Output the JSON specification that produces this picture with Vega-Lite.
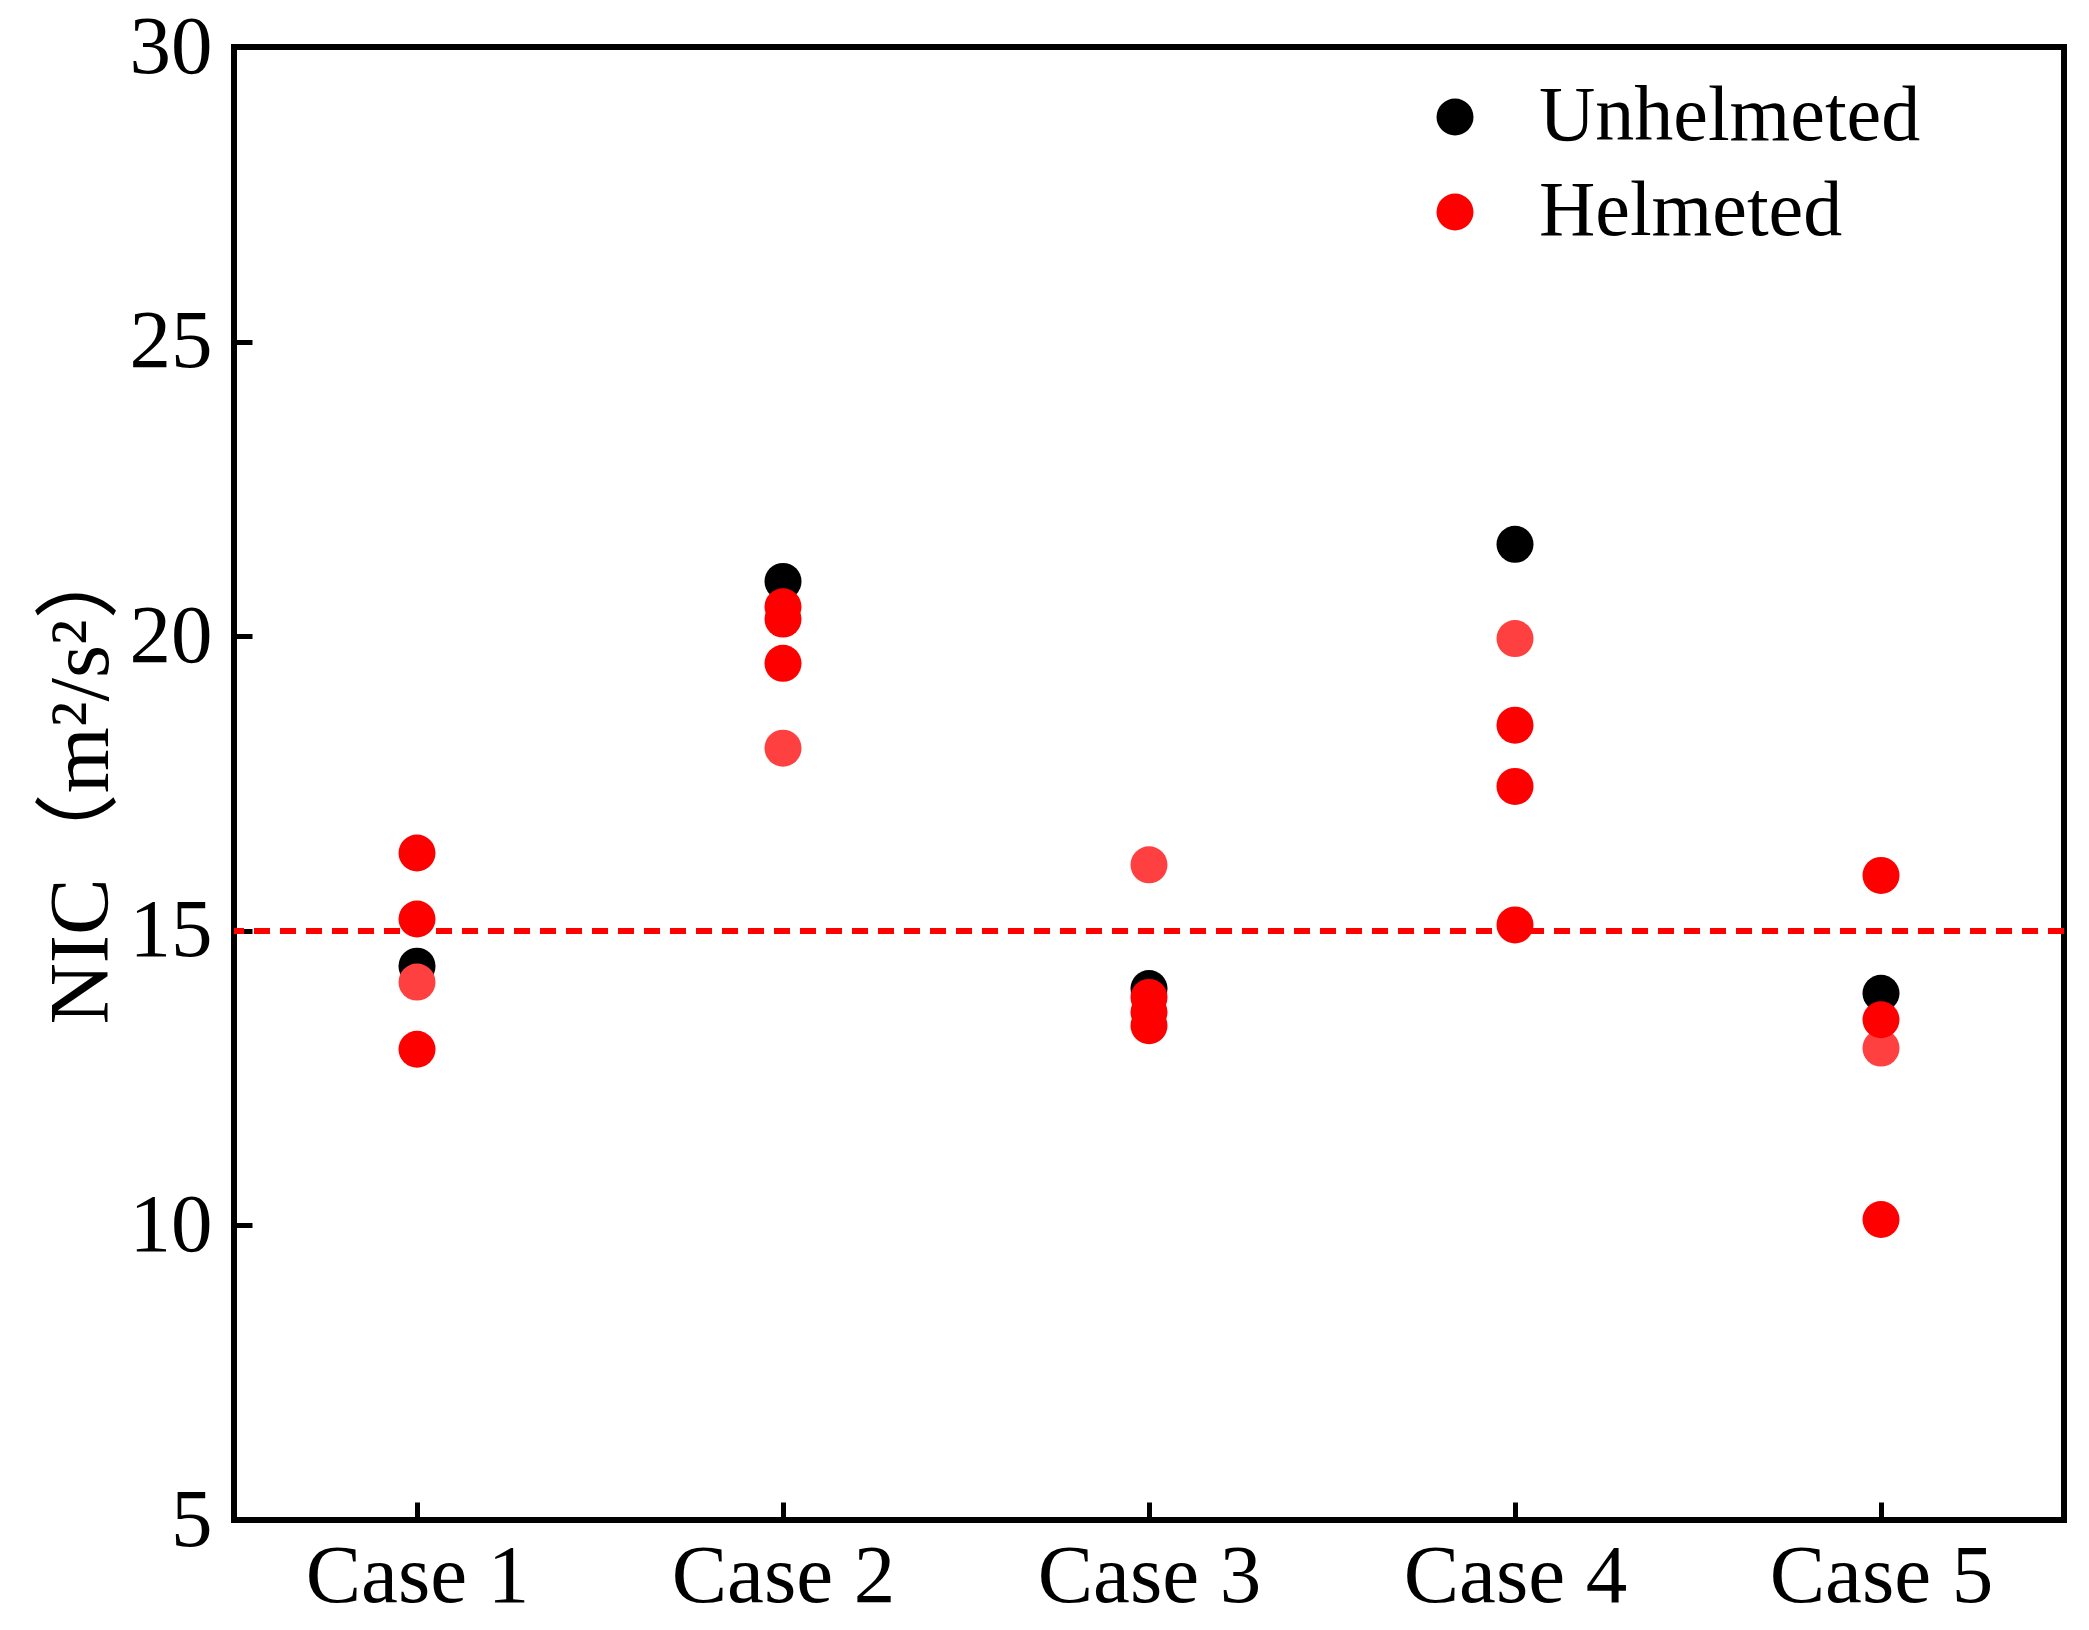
{
  "$schema": "https://vega.github.io/schema/vega-lite/v6.json",
  "width": 1830,
  "height": 1473,
  "autosize": {"type": "none"},
  "padding": {"left": 234, "top": 47, "right": 25, "bottom": 110},
  "background": "white",
  "config": {
    "font": "Liberation Serif",
    "view": {"stroke": "black", "strokeWidth": 6},
    "axis": {
      "domain": false,
      "grid": false,
      "tickSize": -18,
      "tickWidth": 5,
      "tickColor": "black",
      "labelFont": "Liberation Serif",
      "labelFontSize": 83,
      "labelColor": "black",
      "labelLimit": 0,
      "titleColor": "black"
    },
    "legend": {
      "orient": "none",
      "legendX": 1182,
      "legendY": 31,
      "padding": 0,
      "symbolSize": 1369,
      "symbolType": "circle",
      "symbolStrokeWidth": 0,
      "labelFont": "Liberation Serif",
      "labelFontSize": 78,
      "labelColor": "black",
      "labelLimit": 0,
      "labelOffset": 45,
      "rowPadding": 17
    }
  },
  "data": {
    "values": [
      {"case": "Case 1", "group": "Unhelmeted", "nic": 14.40},
      {"case": "Case 2", "group": "Unhelmeted", "nic": 20.93},
      {"case": "Case 3", "group": "Unhelmeted", "nic": 14.02},
      {"case": "Case 4", "group": "Unhelmeted", "nic": 21.56},
      {"case": "Case 5", "group": "Unhelmeted", "nic": 13.94},
      {"case": "Case 1", "group": "Helmeted (light)", "nic": 14.13},
      {"case": "Case 2", "group": "Helmeted (light)", "nic": 18.10},
      {"case": "Case 3", "group": "Helmeted (light)", "nic": 16.12},
      {"case": "Case 4", "group": "Helmeted (light)", "nic": 19.96},
      {"case": "Case 5", "group": "Helmeted (light)", "nic": 13.01},
      {"case": "Case 1", "group": "Helmeted", "nic": 16.32},
      {"case": "Case 1", "group": "Helmeted", "nic": 15.20},
      {"case": "Case 1", "group": "Helmeted", "nic": 12.99},
      {"case": "Case 2", "group": "Helmeted", "nic": 20.50},
      {"case": "Case 2", "group": "Helmeted", "nic": 20.29},
      {"case": "Case 2", "group": "Helmeted", "nic": 19.54},
      {"case": "Case 3", "group": "Helmeted", "nic": 13.87},
      {"case": "Case 3", "group": "Helmeted", "nic": 13.62},
      {"case": "Case 3", "group": "Helmeted", "nic": 13.39},
      {"case": "Case 4", "group": "Helmeted", "nic": 18.49},
      {"case": "Case 4", "group": "Helmeted", "nic": 17.45},
      {"case": "Case 4", "group": "Helmeted", "nic": 15.10},
      {"case": "Case 5", "group": "Helmeted", "nic": 15.94},
      {"case": "Case 5", "group": "Helmeted", "nic": 13.49},
      {"case": "Case 5", "group": "Helmeted", "nic": 10.10}
    ]
  },
  "layer": [
    {
      "mark": {"type": "rule", "color": "#FF0000", "strokeWidth": 5, "strokeDash": [16, 10]},
      "encoding": {"y": {"datum": 15, "type": "quantitative"}}
    },
    {
      "mark": {"type": "point", "filled": true, "opacity": 1, "size": 1369, "shape": "circle", "strokeWidth": 0},
      "encoding": {
        "x": {
          "field": "case",
          "type": "nominal",
          "sort": null,
          "scale": {"type": "point", "padding": 0.5},
          "axis": {"title": null, "labelAngle": 0, "labelPadding": 33}
        },
        "y": {
          "field": "nic",
          "type": "quantitative",
          "scale": {"domain": [5, 30], "nice": false, "zero": false},
          "axis": {
            "values": [5, 10, 15, 20, 25, 30],
            "format": "d",
            "labelPadding": 40,
            "title": "NIC（m²/s²）",
            "titleFont": "Liberation Serif, Noto Sans CJK SC",
            "titleFontSize": 85,
            "titleFontWeight": "normal",
            "titleAngle": -90,
            "titleX": -127,
            "titleY": 732,
            "titleAlign": "center",
            "titleBaseline": "alphabetic"
          }
        },
        "color": {
          "field": "group",
          "type": "nominal",
          "scale": {
            "domain": ["Unhelmeted", "Helmeted", "Helmeted (light)"],
            "range": ["#000000", "#FF0000", "#FF4040"]
          },
          "legend": {"title": null, "values": ["Unhelmeted", "Helmeted"]}
        }
      }
    }
  ]
}
